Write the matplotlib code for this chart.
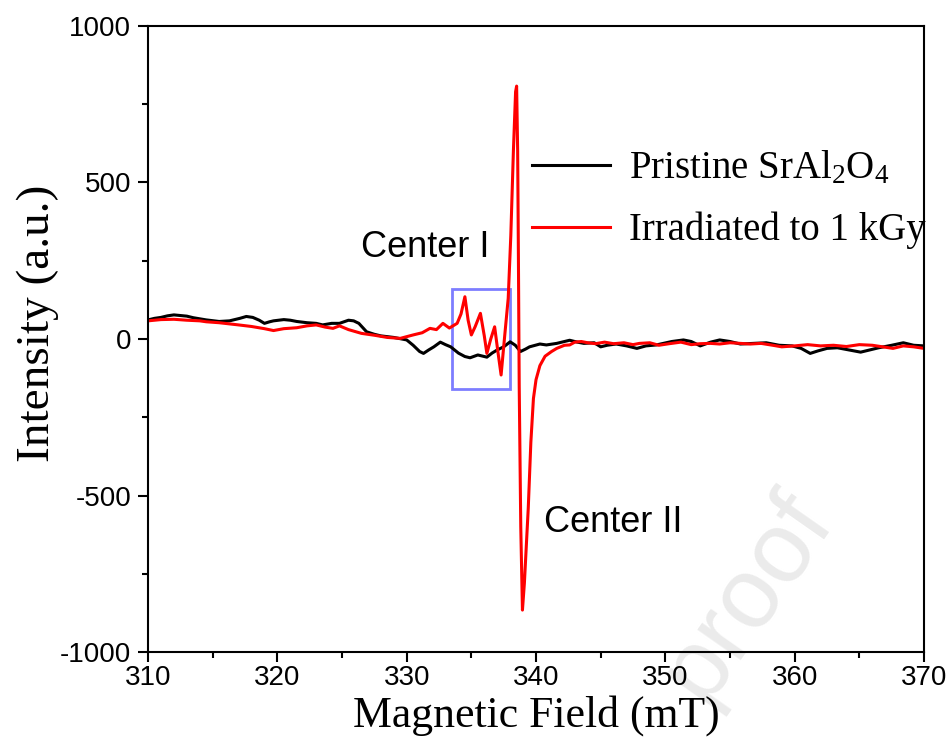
import matplotlib
matplotlib.use("Agg")
import matplotlib.pyplot as plt
from matplotlib.patches import Rectangle

plt.rcParams["axes.unicode_minus"] = False
plt.rcParams["mathtext.fontset"] = "custom"
plt.rcParams["mathtext.rm"] = "Liberation Serif"

# Pristine SrAl2O4 (black)
field_pristine = [310, 310.5, 311, 311.5, 312, 312.5, 313, 313.5, 314.5, 315.5, 316.3, 317.1,
                  317.6, 318.1, 318.6, 319.0, 319.4, 319.7, 320.5, 321, 321.5, 322.3, 323,
                  323.5, 324.2, 324.8, 325.5, 325.9, 326.3, 326.9, 327.5, 328, 329, 330,
                  330.5, 331, 331.3, 331.7, 332.1, 332.6, 333, 333.4, 334, 334.5, 334.9,
                  335.5, 336.2, 336.6, 337, 337.5, 338.0, 338.4, 338.8, 339.2, 339.5, 340.3,
                  340.8, 341.6, 342.6, 343.2, 343.7, 344.5, 345, 345.5, 346.2, 347, 347.8,
                  348.5, 349.3, 350.5, 351.4, 352, 352.7, 353.5, 354.2, 355, 355.8, 356.8,
                  357.8, 358.8, 359.8, 360.5, 361.2, 361.8, 362.5, 363.3, 364.2, 365.1,
                  365.8, 366.5, 367.5, 368.4, 369.2, 370]
int_pristine = [61, 66, 69, 74, 77, 75, 73, 68, 61, 56, 58, 66,
                72, 69, 60, 50, 55, 58, 62, 60, 56, 52, 50,
                45, 50, 50, 60, 58, 50, 23, 15, 10, 5, -3,
                -20, -40, -46, -35, -25, -10, -18, -25, -45, -56, -60,
                -51, -58, -45, -35, -25, -9, -20, -40, -32, -25, -16,
                -19, -14, -4, -10, -14, -12, -25, -20, -16, -22, -30,
                -22, -19, -8, -3, -8, -22, -10, -3, -8, -16, -14,
                -12, -20, -22, -30, -46, -38, -30, -28, -35, -42,
                -35, -28, -20, -12, -20, -22]

# Irradiated to 1 kGy (red)
field_irr = [310, 311, 312, 313, 314, 314.5, 315.5, 317, 318, 319, 319.7, 320.5, 321.5,
             322.3, 323, 323.7, 324.3, 324.8, 325.5, 326.5, 327.5, 328.5, 329.5, 330.5,
             331.2, 331.8, 332.3, 332.8, 333.3, 333.9, 334.2, 334.5, 334.75, 335.0, 335.3,
             335.7, 336.0, 336.2, 336.5, 336.8, 337.05, 337.3, 337.6, 337.85, 338.05,
             338.25, 338.42, 338.5, 338.58, 338.64, 338.7, 338.82, 338.95, 339.1, 339.25,
             339.4, 339.6, 339.8, 340.0, 340.3, 340.7, 341.2, 341.6, 342.2, 342.6, 343,
             343.5, 344, 344.6, 345.3, 346, 346.8, 347.5, 348, 348.8, 349.5, 350.3, 351.2,
             352, 352.7, 353.5, 354.2, 355, 355.8, 356.6, 357.4, 358.3, 359, 360, 361,
             362, 363, 364, 365, 366, 366.8, 367.6, 368.4, 369.2, 370]
int_irr = [58, 62, 63, 60, 58, 55, 52, 45, 40, 33, 27, 33, 36,
           42, 45, 38, 34, 42, 30, 18, 12, 5, 2, 13,
           20, 34, 30, 50, 35, 50, 80, 135, 60, 13, 40,
           82, 10, -46, 0, 39, -40, -115, 20, 130, 330,
           600, 790, 808, 600, 250, -150, -600, -866, -780, -660,
           -540, -330, -190, -130, -85, -55, -40, -30, -20, -19, -10,
           -8, -12, -15, -10, -15, -12, -18, -14, -12, -20, -15, -10,
           -18, -15, -14, -16, -12, -14, -16, -14, -20, -25, -22, -18,
           -22, -20, -24, -18, -20, -25, -30, -22, -25, -30]

x_ticks = [310, 320, 330, 340, 350, 360, 370]
y_ticks = [-1000, -500, 0, 500, 1000]

fig = plt.figure(figsize=(9.52, 7.51), dpi=100)
ax = fig.add_axes([0.1555, 0.1318, 0.8151, 0.8336])
ax.set_facecolor("none")

# faint watermark
fig.text(0.785, 0.205, "proof", fontsize=72, color="#ebebeb", rotation=55,
         ha="center", va="center", family="Liberation Sans", zorder=-10)

ax.plot(field_pristine, int_pristine, color="black", lw=2.2, label=r"Pristine SrAl$\mathregular{_2}$O$\mathregular{_4}$")
ax.plot(field_irr, int_irr, color="#ff0000", lw=2.2, label="Irradiated to 1 kGy")

ax.add_patch(Rectangle((333.5, -160), 4.5, 320, fill=False, edgecolor="#6f6fff", lw=2, alpha=0.9))

ax.text(331.4, 291, "Center I", fontsize=26, family="Liberation Sans", ha="center", va="center")
ax.text(346.0, -585, "Center II", fontsize=26, family="Liberation Sans", ha="center", va="center")

ax.set_xlim(310, 370)
ax.set_ylim(-1000, 1000)
ax.set_xticks(x_ticks)
ax.set_yticks(y_ticks)
ax.set_xticks(range(315, 370, 10), minor=True)
ax.set_yticks([-750, -250, 250, 750], minor=True)
for lab in ax.get_xticklabels() + ax.get_yticklabels():
    lab.set_family("Liberation Sans")
    lab.set_fontsize(20)
ax.tick_params(which="major", direction="out", length=7, width=1.5)
ax.tick_params(axis="x", which="major", pad=2)
ax.tick_params(axis="y", which="major", pad=5)
ax.tick_params(which="minor", direction="out", length=4, width=1.5)
for sp in ax.spines.values():
    sp.set_linewidth(1.5)

ax.set_xlabel("Magnetic Field (mT)", fontsize=31.5, family="Liberation Serif", labelpad=3)
ax.set_ylabel("Intensity (a.u.)", fontsize=34, family="Liberation Serif", labelpad=5)
ax.yaxis.set_label_coords(-0.115, 0.525)

leg = ax.legend(loc="upper left", bbox_to_anchor=(0.47, 0.833), frameon=False,
                prop={"family": "Liberation Serif", "size": 28}, handlelength=2.0,
                handletextpad=0.5, labelspacing=0.62, borderpad=0)

fig.savefig("out.png", dpi=100)
